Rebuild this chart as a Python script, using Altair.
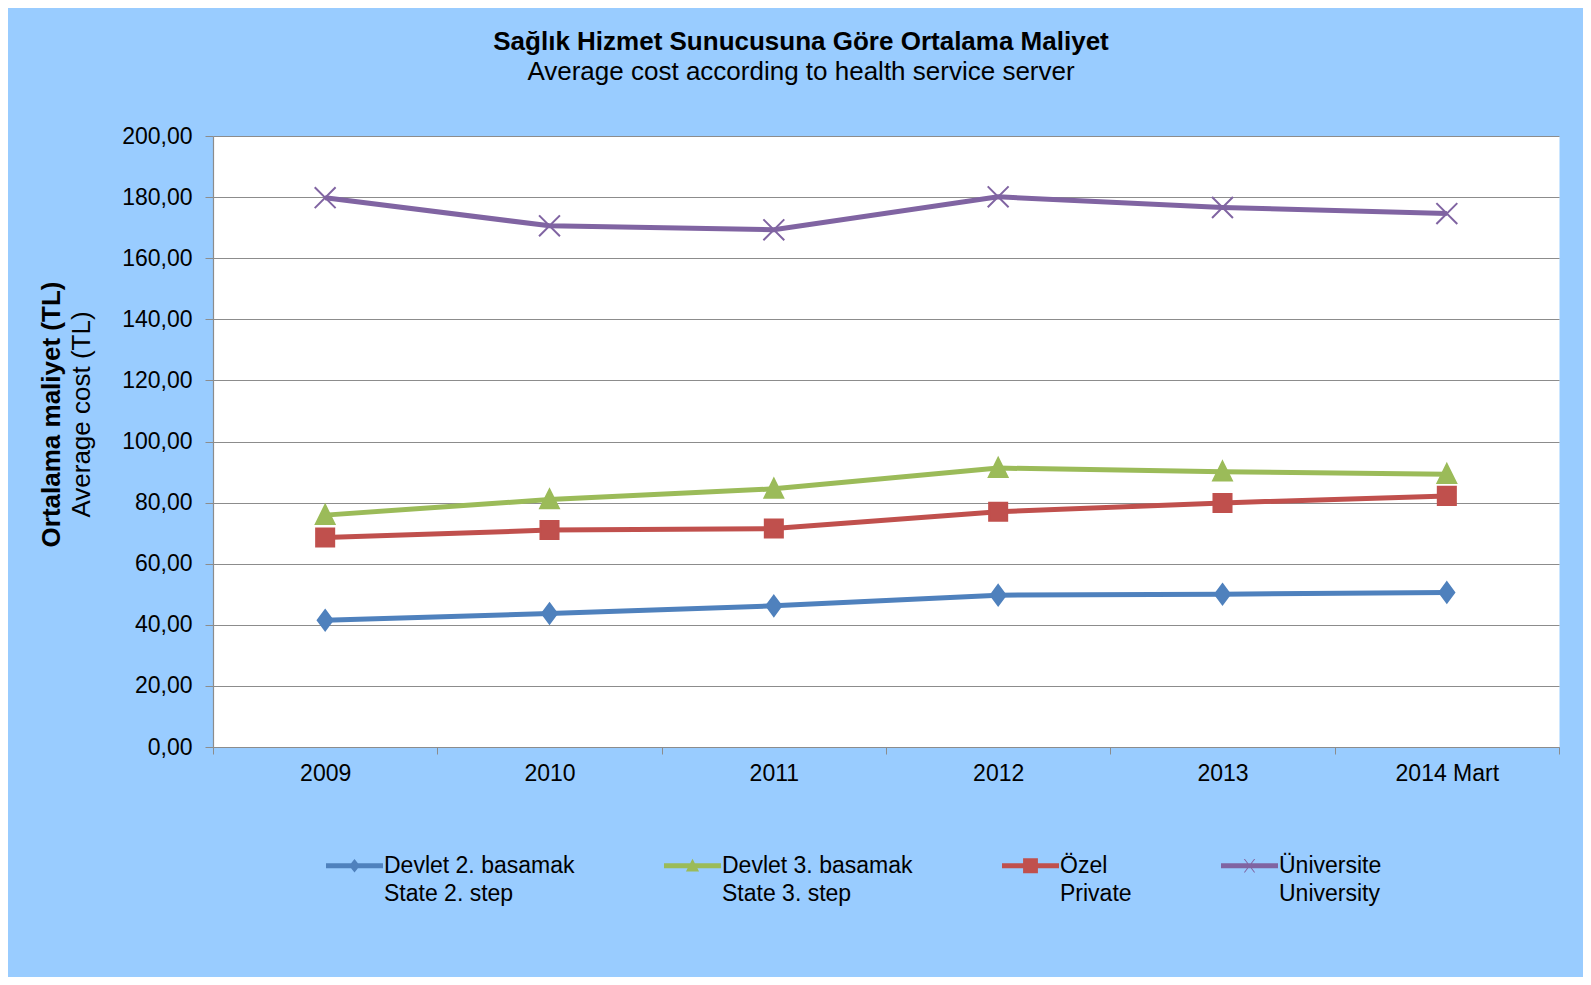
import altair as alt
import pandas as pd

# ---------------- data ----------------
years = ["2009", "2010", "2011", "2012", "2013", "2014 Mart"]
series_tr = ["Devlet 2. basamak", "Devlet 3. basamak", "Özel", "Üniversite"]
series_en = ["State 2. step", "State 3. step", "Private", "University"]
devlet2 = [41.5, 43.7, 46.2, 49.7, 50.0, 50.6]
devlet3 = [75.9, 81.0, 84.5, 91.3, 90.1, 89.3]
ozel = [68.6, 71.0, 71.5, 77.0, 79.9, 82.2]
universite = [179.8, 170.6, 169.3, 180.1, 176.6, 174.6]
y_ticks = [0, 20, 40, 60, 80, 100, 120, 140, 160, 180, 200]

colors = ["#4F81BD", "#9BBB59", "#C0504D", "#8064A2"]
FONT = "Liberation Sans"
GRAY = "#8C8C8C"

keys = [f"{a}|{b}" for a, b in zip(series_tr, series_en)]
values = [devlet2, devlet3, ozel, universite]
rows = []
for k, vals in zip(keys, values):
    for yr, v in zip(years, vals):
        rows.append({"series": k, "year": yr, "value": v})
df = pd.DataFrame(rows)

# ---------------- marker shapes ----------------
plot_shapes = [
    "M0,-0.92 L0.68,0 L0,0.92 L-0.68,0 Z",
    "M0,-0.92 L0.85,0.8 L-0.85,0.8 Z",
    "M-0.82,-0.82 L0.82,-0.82 L0.82,0.82 L-0.82,0.82 Z",
    "M-0.95,-0.95 L0.95,0.95 M-0.95,0.95 L0.95,-0.95",
]


def poly_path(polys):
    out = []
    for poly in polys:
        out.append("M" + " L".join(f"{x:.3f},{y:.3f}" for x, y in poly) + " Z")
    return " ".join(out)


bar = [(-1, -0.09), (1, -0.09), (1, 0.09), (-1, 0.09)]
legend_shapes = [
    poly_path([bar, [(0, -0.24), (0.19, 0), (0, 0.24), (-0.19, 0)]]),
    poly_path([bar, [(0, -0.25), (0.23, 0.2), (-0.23, 0.2)]]),
    poly_path([bar, [(-0.26, -0.26), (0.26, -0.26), (0.26, 0.26), (-0.26, 0.26)]]),
    poly_path([bar,
               [(-0.2, -0.24), (-0.16, -0.24), (0.2, 0.24), (0.16, 0.24)],
               [(0.16, -0.24), (0.2, -0.24), (-0.16, 0.24), (-0.2, 0.24)]]),
]

# ---------------- encodings ----------------
x_enc = alt.X(
    "year:N",
    sort=years,
    scale=alt.Scale(type="band", paddingInner=0, paddingOuter=0),
    axis=alt.Axis(
        title=None,
        tickBand="extent",
        labelFont=FONT,
        labelFontSize=23,
        labelColor="black",
        labelPadding=8,
        tickSize=7,
        tickColor=GRAY,
        domainColor=GRAY,
        domainWidth=1.2,
        grid=False,
        labelAngle=0,
    ),
)

y_scale = alt.Scale(domain=[0, 200], nice=False)

y_real = alt.Y(
    "value:Q",
    scale=y_scale,
    axis=alt.Axis(
        orient="left",
        values=y_ticks,
        labelExpr="replace(format(datum.value, '.2f'), '.', ',')",
        labelFont=FONT,
        labelFontSize=23,
        labelColor="black",
        labelPadding=13,
        tickSize=8,
        tickColor=GRAY,
        domainColor=GRAY,
        domainWidth=1.2,
        grid=True,
        gridColor=GRAY,
        gridWidth=1.2,
        title="Ortalama maliyet (TL)",
        titleFont=FONT,
        titleFontSize=26,
        titleFontWeight="bold",
        titleColor="black",
        titleAngle=270,
        titleAlign="center",
        titleBaseline="bottom",
        titleX=-149,
        titleY=278,
    ),
)

y_dummy = alt.Y(
    "value:Q",
    scale=y_scale,
    axis=alt.Axis(
        orient="left",
        labels=False,
        ticks=False,
        domain=False,
        grid=False,
        title="Average cost (TL)",
        titleFont=FONT,
        titleFontSize=26,
        titleFontWeight="normal",
        titleColor="black",
        titleAngle=270,
        titleAlign="center",
        titleBaseline="bottom",
        titleX=-119,
        titleY=278,
    ),
)

color_scale = alt.Scale(domain=keys, range=colors)

lines = alt.Chart(df).mark_line(strokeWidth=5).encode(
    x=x_enc,
    y=y_real,
    color=alt.Color("series:N", scale=color_scale, legend=None),
)

points = alt.Chart(df).mark_point(filled=True, strokeWidth=2, opacity=1, size=121 * 4).encode(
    x=x_enc,
    y=y_dummy,
    color=alt.Color("series:N", scale=color_scale, legend=None),
    stroke=alt.Stroke("series:N", scale=color_scale, legend=None),
    shape=alt.Shape("series:N", scale=alt.Scale(domain=keys, range=plot_shapes), legend=None),
)

leg = alt.Legend(
    orient="none",
    legendX=113,
    legendY=701,
    direction="horizontal",
    columns=4,
    title=None,
    labelExpr="split(datum.label, '|')",
    labelFont=FONT,
    labelFontSize=23,
    labelColor="black",
    labelLimit=500,
    labelOffset=1,
    labelBaseline="middle",
    columnPadding=89,
    symbolSize=3249,
    symbolStrokeWidth=0,
    symbolOpacity=1,
    padding=0,
)

legend_layer = alt.Chart(df).transform_filter("false").mark_point(filled=True, opacity=1).encode(
    x=x_enc,
    y=alt.Y("value:Q", scale=y_scale, axis=None),
    color=alt.Color("series:N", scale=alt.Scale(domain=keys, range=colors), legend=leg),
    shape=alt.Shape("series:N", scale=alt.Scale(domain=keys, range=legend_shapes), legend=leg),
)

title = alt.Title(
    "Sağlık Hizmet Sunucusuna Göre Ortalama Maliyet",
    subtitle="Average cost according to health service server",
    font=FONT,
    fontSize=26,
    fontWeight="bold",
    color="black",
    subtitleFont=FONT,
    subtitleFontSize=26,
    subtitleColor="black",
    subtitlePadding=4,
    anchor="middle",
    frame="group",
    dx=-85,
    offset=40,
)

chart = (
    alt.layer(lines, points, legend_layer)
    .resolve_axis(y="independent")
    .resolve_scale(color="independent", shape="independent", stroke="independent")
    .properties(
        width=1346,
        height=611,
        title=title,
        autosize=alt.AutoSizeParams(type="none"),
        padding={"left": 205, "top": 128, "right": 24, "bottom": 230},
    )
    .configure(background="#99CCFF", style={"guide-label": {"lineHeight": 28}})
    .configure_view(fill="white", stroke="transparent")
)

chart.save("out.html", embed_options={"renderer": "svg", "actions": False})
